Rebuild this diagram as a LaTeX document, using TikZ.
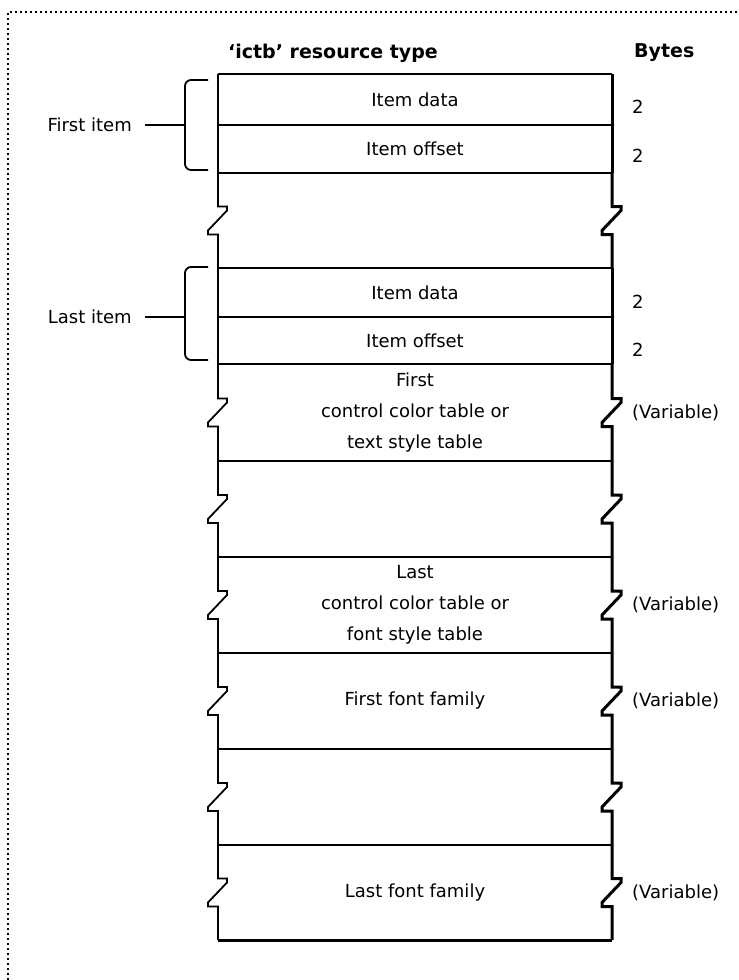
\documentclass[tikz,border=0pt]{standalone}
\usepackage{fontspec}
\setmainfont{DejaVu Sans}
\usetikzlibrary{positioning}

\begin{document}
\begin{tikzpicture}[
    x=1pt, y=1pt,
    node distance=0pt,
    every node/.style={font=\fontsize{18}{31}\selectfont, text=black},
    row/.style={minimum width=394pt, inner sep=0pt, outer sep=0pt, align=center},
    hdr/.style={font=\fontsize{19}{22}\selectfont\bfseries, inner sep=0pt},
    lbl/.style={inner sep=0pt},
    edge/.style={draw=black, line width=1.8pt},
    side/.style={draw=black, line width=3pt, line cap=square}
  ]
    \useasboundingbox (0,0) rectangle (739,-980);
    \draw[dash pattern=on 2pt off 3pt, line width=1.5pt] (8,-980) -- (8,-12) -- (739,-12);

    % rows of the resource
    \node[row, minimum height=51pt] (r1) at (415,-99.5) {Item data};
    \node[row, minimum height=48pt, below=of r1] (r2) {Item offset};
    \node[row, minimum height=95pt, below=of r2] (r3) {};
    \node[row, minimum height=49pt, below=of r3] (r4) {Item data};
    \node[row, minimum height=47pt, below=of r4] (r5) {Item offset};
    \node[row, minimum height=97pt, below=of r5] (r6) {First\\control color table or\\text style table};
    \node[row, minimum height=96pt, below=of r6] (r7) {};
    \node[row, minimum height=96pt, below=of r7] (r8) {Last\\control color table or\\font style table};
    \node[row, minimum height=96pt, below=of r8] (r9) {First font family};
    \node[row, minimum height=96pt, below=of r9] (r10) {};
    \node[row, minimum height=95pt, below=of r10] (r11) {Last font family};

    \node[hdr] (title) at (333,-53) {`ictb' resource type};
    \node[hdr, anchor=west] (bytes) at (634,-53) {Bytes};

    % lines between rows
    \draw[edge] (r1.north west) -- (r1.north east);
    \foreach \r in {r1,r2,r3,r4,r5,r6,r7,r8,r9,r10}
      \draw[edge] (\r.south west) -- (\r.south east);
    \draw[side] (r11.south west) -- (r11.south east);

    % sides, with breaks
    \foreach \r in {r1,r2,r4,r5} {
      \draw[edge] (\r.north west) -- (\r.south west);
      \draw[side] (\r.north east) -- (\r.south east);
    }
    \foreach \r in {r3,r6,r7,r8,r9,r10,r11} {
      \draw[edge] (\r.north west) -- ([yshift=14pt]\r.west) -- ++(9,0) -- ++(0,-4)
        -- ++(-19,-20) -- ++(0,-4) -- ++(10,0) -- (\r.south west);
      \draw[side] (\r.north east) -- ([yshift=14pt]\r.east) -- ++(9,0) -- ++(0,-4)
        -- ++(-19,-20) -- ++(0,-4) -- ++(10,0) -- (\r.south east);
    }

    % byte counts
    \node[lbl, anchor=west] (b1) at ([xshift=20pt,yshift=-7pt]r1.east) {2};
    \node[lbl, anchor=west] (b2) at ([xshift=20pt,yshift=-7pt]r2.east) {2};
    \node[lbl, anchor=west] (b4) at ([xshift=20pt,yshift=-9pt]r4.east) {2};
    \node[lbl, anchor=west] (b5) at ([xshift=20pt,yshift=-9pt]r5.east) {2};
    \foreach \r in {r6,r8,r9,r11}
      \node[lbl, anchor=west] (v\r) at ([xshift=20pt]\r.east) {(Variable)};

    % item brackets
    \coordinate (fb) at ([xshift=-33pt]r1.south west);
    \coordinate (lb) at ([xshift=-33pt]r4.south west);
    \draw[edge, rounded corners=6pt] ([xshift=-10pt,yshift=-6pt]r1.north west) -| (fb)
      |- ([xshift=-10pt,yshift=3pt]r2.south west);
    \draw[edge, rounded corners=6pt] ([xshift=-10pt,yshift=1pt]r4.north west) -| (lb)
      |- ([xshift=-10pt,yshift=4pt]r5.south west);
    \node[lbl, left=53pt of fb] (fi) {First item};
    \node[lbl, left=53pt of lb] (li) {Last item};
    \draw[edge, shorten <=13pt] (fi.east) -- (fb);
    \draw[edge, shorten <=13pt] (li.east) -- (lb);
\end{tikzpicture}
\end{document}
